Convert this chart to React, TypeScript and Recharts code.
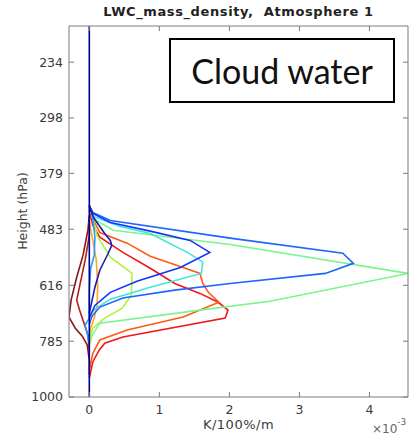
import React from 'react';
import { LineChart, Line, XAxis, YAxis } from 'recharts';

// Axis ticks
const xTicks = [0, 1, 2, 3, 4];
const yTicks = [234, 298, 379, 483, 616, 785, 1000];

// Series: pressure levels (hPa) and values (x 10^-3 K/100%/m)
const navyP = [200, 1000];
const navyV = [0, 0];

const indigoP = [439, 461, 492, 507, 518, 536, 577, 621, 657, 695];
const indigoV = [0, 0.07, 0.22, 0.3, 0.32, 0.27, 0.15, 0.08, 0.04, 0];

const blueP = [436, 451, 469, 487, 507, 534, 570, 605, 635, 672, 710];
const blueV = [0, 0.05, 0.3, 0.87, 1.44, 1.72, 1.3, 0.68, 0.3, 0.08, 0];

const azureP = [436, 449, 465, 502, 536, 560, 585, 611, 629, 651, 677, 704, 729];
const azureV = [0, 0.05, 0.3, 2.01, 3.62, 3.77, 3.37, 2.01, 1.22, 0.48, 0.15, 0.04, 0];

const skyP = [436, 451, 500, 541, 572, 629, 710, 732, 758, 792];
const skyV = [0, 0.04, 0.08, 0.07, 0.02, 0, 0, -0.06, -0.03, 0];

const cyanP = [436, 457, 477, 492, 534, 557, 585, 621, 654, 683, 704];
const cyanV = [0, 0.05, 0.44, 0.87, 1.4, 1.62, 1.6, 0.87, 0.3, 0.08, 0];

const greenP = [436, 461, 485, 516, 585, 660, 686, 726, 765, 798];
const greenV = [0, 0.05, 0.34, 2.01, 4.55, 2.58, 1.58, 0.15, 0.04, 0];

const limeP = [436, 461, 496, 545, 585, 643, 680, 710, 742, 775];
const limeV = [0, 0.05, 0.11, 0.3, 0.61, 0.6, 0.47, 0.22, 0.05, 0];

const orangeP = [469, 507, 553, 616, 672, 710, 748, 798];
const orangeV = [0, 0.05, 0.1, 0.12, 0.11, 0.07, 0.01, 0];

const vermilionP = [436, 461, 490, 513, 543, 570, 585, 611, 635, 663, 707, 748, 781, 827, 890];
const vermilionV = [0, 0.05, 0.15, 0.54, 0.87, 1.34, 1.58, 1.62, 1.7, 1.85, 1.34, 0.54, 0.15, 0.05, 0];

const redP = [445, 475, 500, 534, 572, 611, 638, 663, 686, 710, 771, 792, 816, 859, 921];
const redV = [0, 0.05, 0.15, 0.48, 0.87, 1.22, 1.58, 1.84, 1.98, 1.94, 0.48, 0.22, 0.14, 0.05, 0];

const maroonP = [469, 496, 553, 611, 657, 692, 723, 765, 816];
const maroonV = [0, 0, -0.06, -0.13, -0.18, -0.13, -0.08, -0.02, 0];

const brownP = [455, 485, 541, 595, 657, 707, 742, 768, 798, 852, 909];
const brownV = [0, -0.02, -0.09, -0.18, -0.26, -0.29, -0.2, -0.1, -0.03, 0, 0];

const build = (ps: number[], vs: number[]) => ps.map((p, i) => ({ p, v: vs[i] }));

const series = [
  { name: 'brown', color: '#8a1616', data: build(brownP, brownV) },
  { name: 'maroon', color: '#b41e1e', data: build(maroonP, maroonV) },
  { name: 'red', color: '#f01818', data: build(redP, redV) },
  { name: 'vermilion', color: '#ff5a14', data: build(vermilionP, vermilionV) },
  { name: 'orange', color: '#ffa428', data: build(orangeP, orangeV) },
  { name: 'lime', color: '#b4f040', data: build(limeP, limeV) },
  { name: 'green', color: '#7af58c', data: build(greenP, greenV) },
  { name: 'cyan', color: '#3ee8d8', data: build(cyanP, cyanV) },
  { name: 'sky', color: '#1aa0ff', data: build(skyP, skyV) },
  { name: 'azure', color: '#1e64ff', data: build(azureP, azureV) },
  { name: 'blue', color: '#1433ff', data: build(blueP, blueV) },
  { name: 'indigo', color: '#1c1cb0', data: build(indigoP, indigoV) },
  { name: 'navy', color: '#000090', data: build(navyP, navyV) },
];

const FONT = '"DejaVu Sans", Arial, sans-serif';
const AXIS = '#7a7a7a';
const TXT = '#3a3a3a';

export default function App() {
  return (
    <div style={{ position: 'absolute', left: 0, top: 0, width: 409, height: 438, background: '#fff', fontFamily: FONT }}>
      <LineChart
        width={409}
        height={438}
        layout="vertical"
        margin={{ top: 20, right: 0, bottom: 11, left: 0 }}
      >
        <XAxis
          xAxisId="bottom"
          orientation="bottom"
          type="number"
          domain={[-0.29, 4.55]}
          allowDataOverflow
          ticks={xTicks}
          height={30}
          tickSize={-5}
          tickMargin={13}
          stroke={AXIS}
          tick={{ fill: TXT, fontSize: 12.5, fontFamily: FONT }}
        />
        <XAxis
          xAxisId="top"
          orientation="top"
          type="number"
          domain={[-0.29, 4.55]}
          allowDataOverflow
          ticks={xTicks}
          height={6}
          tickSize={-5}
          tickFormatter={() => ''}
          stroke={AXIS}
        />
        <YAxis
          yAxisId="left"
          orientation="left"
          type="number"
          dataKey="p"
          scale="log"
          domain={[200, 1000]}
          allowDataOverflow
          ticks={yTicks}
          width={69}
          tickSize={-5}
          tickMargin={11}
          stroke={AXIS}
          tick={{ fill: TXT, fontSize: 12.5, fontFamily: FONT }}
        />
        <YAxis
          yAxisId="right"
          orientation="right"
          type="number"
          dataKey="p"
          scale="log"
          domain={[200, 1000]}
          allowDataOverflow
          ticks={yTicks}
          width={1}
          tickSize={-5}
          tickFormatter={() => ''}
          stroke={AXIS}
        />
        {series.map((s) => (
          <Line
            key={s.name}
            data={s.data}
            dataKey="v"
            xAxisId="bottom"
            yAxisId="left"
            type="linear"
            stroke={s.color}
            strokeWidth={1.6}
            dot={false}
            activeDot={false}
            isAnimationActive={false}
          />
        ))}
      </LineChart>

      <div style={{ position: 'absolute', left: 69, width: 339, top: 4, textAlign: 'center', fontSize: 13, letterSpacing: 0.6, fontWeight: 'bold', color: '#222', whiteSpace: 'pre' }}>
        {'LWC_mass_density,  Atmosphere 1'}
      </div>

      <div style={{ position: 'absolute', left: 22, top: 211, transform: 'translate(-50%, -50%) rotate(-90deg)', fontSize: 12.5, color: TXT, whiteSpace: 'nowrap' }}>
        Height (hPa)
      </div>

      <div style={{ position: 'absolute', left: 69, width: 339, top: 417, textAlign: 'center', fontSize: 13, letterSpacing: 0.5, color: TXT, whiteSpace: 'nowrap' }}>
        K/100%/m
      </div>

      <div style={{ position: 'absolute', left: 372, top: 422, fontSize: 12, color: '#666', whiteSpace: 'nowrap' }}>
        ×10<sup style={{ fontSize: 9, verticalAlign: 'top', position: 'relative', top: -5 }}>-3</sup>
      </div>

      <div style={{ position: 'absolute', left: 169, top: 38, width: 222, height: 61, border: '2px solid #000', background: '#fff', display: 'flex', alignItems: 'center', justifyContent: 'center' }}>
        <span style={{ fontFamily: 'Lato, "Open Sans", sans-serif', fontSize: 34, color: '#111', lineHeight: 1 }}>Cloud water</span>
      </div>
    </div>
  );
}
